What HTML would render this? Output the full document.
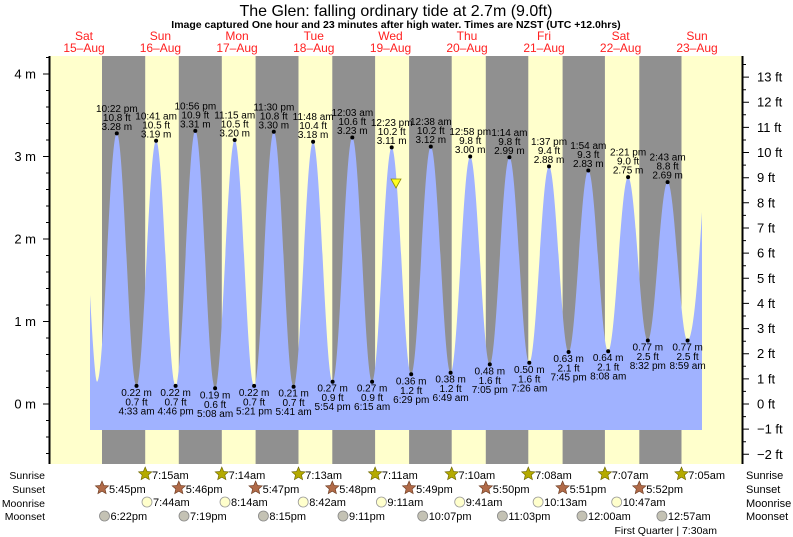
<!DOCTYPE html>
<html><head><meta charset="utf-8"><style>
html,body{margin:0;padding:0;background:#fff;}
svg{display:block;font-family:"Liberation Sans",sans-serif;}
</style></head><body>
<svg width="793" height="537" viewBox="0 0 793 537" xmlns="http://www.w3.org/2000/svg">
<defs>
<polygon id="star" points="0,-7 1.88,-2.59 6.66,-2.16 3.04,0.99 4.11,5.66 0,3.2 -4.11,5.66 -3.04,0.99 -6.66,-2.16 -1.88,-2.59"/>
</defs>
<text x="396" y="16" font-size="16" text-anchor="middle" fill="#000">The Glen: falling  ordinary tide at 2.7m (9.0ft)</text>
<text x="396" y="28" font-size="10.5" font-weight="bold" text-anchor="middle" fill="#000">Image captured One hour and 23 minutes after high water. Times are NZST (UTC +12.0hrs)</text>
<g font-size="12" fill="#ff2020" text-anchor="middle">
<text x="84" y="40">Sat</text><text x="84" y="52">15–Aug</text>
<text x="160.4" y="40">Sun</text><text x="160.4" y="52">16–Aug</text>
<text x="237" y="40">Mon</text><text x="237" y="52">17–Aug</text>
<text x="313.8" y="40">Tue</text><text x="313.8" y="52">18–Aug</text>
<text x="390.5" y="40">Wed</text><text x="390.5" y="52">19–Aug</text>
<text x="467" y="40">Thu</text><text x="467" y="52">20–Aug</text>
<text x="544" y="40">Fri</text><text x="544" y="52">21–Aug</text>
<text x="620.6" y="40">Sat</text><text x="620.6" y="52">22–Aug</text>
<text x="697" y="40">Sun</text><text x="697" y="52">23–Aug</text>
</g>
<rect x="50" y="56" width="692" height="408" fill="#ffffcc"/>
<g fill="#909090">
<rect x="102" y="56" width="43.2" height="408"/>
<rect x="178.8" y="56" width="43" height="408"/>
<rect x="255.6" y="56" width="42.9" height="408"/>
<rect x="332.3" y="56" width="42.8" height="408"/>
<rect x="409.1" y="56" width="42.6" height="408"/>
<rect x="485.8" y="56" width="42.5" height="408"/>
<rect x="562.6" y="56" width="42.3" height="408"/>
<rect x="639.3" y="56" width="42.2" height="408"/>
</g>
<path fill="#a0b2ff" d="M90,430 L90,295 C92,330 95,381.7 97.1,381.7
C104.3,381.7 109.6,133.4 116.8,133.4
C124,133.4 129.3,385.9 136.5,385.9
C143.6,385.9 149,140.8 156.1,140.8
C163.2,140.8 168.5,385.9 175.6,385.9
C182.8,385.9 188.1,130.9 195.3,130.9
C202.5,130.9 207.9,388.3 215.1,388.3
C222.2,388.3 227.6,140 234.7,140
C241.8,140 247,385.9 254.1,385.9
C261.3,385.9 266.6,131.8 273.8,131.8
C281,131.8 286.4,386.7 293.6,386.7
C300.7,386.7 306,141.7 313.1,141.7
C320.2,141.7 325.5,381.7 332.6,381.7
C339.8,381.7 345.1,137.5 352.3,137.5
C359.5,137.5 364.9,381.7 372.1,381.7
C379.2,381.7 384.6,147.4 391.7,147.4
C398.8,147.4 404.1,374.3 411.2,374.3
C418.3,374.3 423.7,146.6 430.8,146.6
C438,146.6 443.4,372.7 450.6,372.7
C457.7,372.7 463.1,156.5 470.2,156.5
C477.3,156.5 482.7,364.4 489.8,364.4
C496.9,364.4 502.3,157.3 509.4,157.3
C516.6,157.3 522.1,362.8 529.3,362.8
C536.5,362.8 541.8,166.4 549,166.4
C556.1,166.4 561.5,352 568.6,352
C575.8,352 581.1,170.5 588.3,170.5
C595.5,170.5 601,351.2 608.2,351.2
C615.4,351.2 620.9,177.1 628.1,177.1
C635.3,177.1 640.6,340.5 647.8,340.5
C655,340.5 660.4,182.1 667.6,182.1
C674.9,182.1 680.3,340.5 687.6,340.5
C694,340.5 699,262 702,212 L702,430 Z"/>
<polygon points="391,179 401,179 396,188" fill="#ffff20" stroke="#909000" stroke-width="0.8"/>
<g font-size="10" text-anchor="middle" fill="#000">
<g transform="translate(116.8,133.4)"><circle r="2"/><text y="-21.5">10:22 pm</text><text y="-12.5">10.8 ft</text><text y="-3.5">3.28 m</text></g>
<g transform="translate(156.1,140.8)"><circle r="2"/><text y="-21.5">10:41 am</text><text y="-12.5">10.5 ft</text><text y="-3.5">3.19 m</text></g>
<g transform="translate(195.3,130.9)"><circle r="2"/><text y="-21.5">10:56 pm</text><text y="-12.5">10.9 ft</text><text y="-3.5">3.31 m</text></g>
<g transform="translate(234.7,140)"><circle r="2"/><text y="-21.5">11:15 am</text><text y="-12.5">10.5 ft</text><text y="-3.5">3.20 m</text></g>
<g transform="translate(273.8,131.8)"><circle r="2"/><text y="-21.5">11:30 pm</text><text y="-12.5">10.8 ft</text><text y="-3.5">3.30 m</text></g>
<g transform="translate(313.1,141.7)"><circle r="2"/><text y="-21.5">11:48 am</text><text y="-12.5">10.4 ft</text><text y="-3.5">3.18 m</text></g>
<g transform="translate(352.3,137.5)"><circle r="2"/><text y="-21.5">12:03 am</text><text y="-12.5">10.6 ft</text><text y="-3.5">3.23 m</text></g>
<g transform="translate(391.7,147.4)"><circle r="2"/><text y="-21.5">12:23 pm</text><text y="-12.5">10.2 ft</text><text y="-3.5">3.11 m</text></g>
<g transform="translate(430.8,146.6)"><circle r="2"/><text y="-21.5">12:38 am</text><text y="-12.5">10.2 ft</text><text y="-3.5">3.12 m</text></g>
<g transform="translate(470.2,156.5)"><circle r="2"/><text y="-21.5">12:58 pm</text><text y="-12.5">9.8 ft</text><text y="-3.5">3.00 m</text></g>
<g transform="translate(509.4,157.3)"><circle r="2"/><text y="-21.5">1:14 am</text><text y="-12.5">9.8 ft</text><text y="-3.5">2.99 m</text></g>
<g transform="translate(549,166.4)"><circle r="2"/><text y="-21.5">1:37 pm</text><text y="-12.5">9.4 ft</text><text y="-3.5">2.88 m</text></g>
<g transform="translate(588.3,170.5)"><circle r="2"/><text y="-21.5">1:54 am</text><text y="-12.5">9.3 ft</text><text y="-3.5">2.83 m</text></g>
<g transform="translate(628.1,177.1)"><circle r="2"/><text y="-21.5">2:21 pm</text><text y="-12.5">9.0 ft</text><text y="-3.5">2.75 m</text></g>
<g transform="translate(667.6,182.1)"><circle r="2"/><text y="-21.5">2:43 am</text><text y="-12.5">8.8 ft</text><text y="-3.5">2.69 m</text></g>
<g transform="translate(136.5,385.9)"><circle r="2"/><text y="10">0.22 m</text><text y="19.5">0.7 ft</text><text y="28.5">4:33 am</text></g>
<g transform="translate(175.6,385.9)"><circle r="2"/><text y="10">0.22 m</text><text y="19.5">0.7 ft</text><text y="28.5">4:46 pm</text></g>
<g transform="translate(215.1,388.3)"><circle r="2"/><text y="10">0.19 m</text><text y="19.5">0.6 ft</text><text y="28.5">5:08 am</text></g>
<g transform="translate(254.1,385.9)"><circle r="2"/><text y="10">0.22 m</text><text y="19.5">0.7 ft</text><text y="28.5">5:21 pm</text></g>
<g transform="translate(293.6,386.7)"><circle r="2"/><text y="10">0.21 m</text><text y="19.5">0.7 ft</text><text y="28.5">5:41 am</text></g>
<g transform="translate(332.6,381.7)"><circle r="2"/><text y="10">0.27 m</text><text y="19.5">0.9 ft</text><text y="28.5">5:54 pm</text></g>
<g transform="translate(372.1,381.7)"><circle r="2"/><text y="10">0.27 m</text><text y="19.5">0.9 ft</text><text y="28.5">6:15 am</text></g>
<g transform="translate(411.2,374.3)"><circle r="2"/><text y="10">0.36 m</text><text y="19.5">1.2 ft</text><text y="28.5">6:29 pm</text></g>
<g transform="translate(450.6,372.7)"><circle r="2"/><text y="10">0.38 m</text><text y="19.5">1.2 ft</text><text y="28.5">6:49 am</text></g>
<g transform="translate(489.8,364.4)"><circle r="2"/><text y="10">0.48 m</text><text y="19.5">1.6 ft</text><text y="28.5">7:05 pm</text></g>
<g transform="translate(529.3,362.8)"><circle r="2"/><text y="10">0.50 m</text><text y="19.5">1.6 ft</text><text y="28.5">7:26 am</text></g>
<g transform="translate(568.6,352)"><circle r="2"/><text y="10">0.63 m</text><text y="19.5">2.1 ft</text><text y="28.5">7:45 pm</text></g>
<g transform="translate(608.2,351.2)"><circle r="2"/><text y="10">0.64 m</text><text y="19.5">2.1 ft</text><text y="28.5">8:08 am</text></g>
<g transform="translate(647.8,340.5)"><circle r="2"/><text y="10">0.77 m</text><text y="19.5">2.5 ft</text><text y="28.5">8:32 pm</text></g>
<g transform="translate(687.6,340.5)"><circle r="2"/><text y="10">0.77 m</text><text y="19.5">2.5 ft</text><text y="28.5">8:59 am</text></g>
</g>
<line x1="49.5" y1="56" x2="49.5" y2="464" stroke="#000" stroke-width="2"/>
<g stroke="#000" stroke-width="1">
<line x1="43" y1="74" x2="49" y2="74"/><line x1="43" y1="156.5" x2="49" y2="156.5"/><line x1="43" y1="239" x2="49" y2="239"/><line x1="43" y1="321.5" x2="49" y2="321.5"/><line x1="43" y1="404" x2="49" y2="404"/>
<path d="M46,57.5H49M46,90.5H49M46,107H49M46,123.5H49M46,140H49M46,173H49M46,189.5H49M46,206H49M46,222.5H49M46,255.5H49M46,272H49M46,288.5H49M46,305H49M46,338H49M46,354.5H49M46,371H49M46,387.5H49M46,420.5H49M46,437H49M46,453.5H49"/>
</g>
<g font-size="13" text-anchor="end" fill="#000">
<text x="36" y="78.5">4 m</text><text x="36" y="161">3 m</text><text x="36" y="243.5">2 m</text><text x="36" y="326">1 m</text><text x="36" y="408.5">0 m</text>
</g>
<line x1="742.5" y1="56" x2="742.5" y2="464" stroke="#000" stroke-width="2"/>
<g stroke="#000" stroke-width="1">
<path d="M743,77.1H749M743,102.2H749M743,127.4H749M743,152.5H749M743,177.7H749M743,202.8H749M743,228H749M743,253.1H749M743,278.3H749M743,303.4H749M743,328.6H749M743,353.7H749M743,378.9H749M743,404H749M743,429.1H749M743,454.3H749"/>
<path d="M743,64.5H746M743,89.7H746M743,114.8H746M743,140H746M743,165.1H746M743,190.3H746M743,215.4H746M743,240.6H746M743,265.7H746M743,290.9H746M743,316H746M743,341.2H746M743,366.3H746M743,391.4H746M743,416.6H746M743,441.7H746"/>
</g>
<g font-size="13" fill="#000">
<text x="757" y="81.6">13 ft</text><text x="757" y="106.7">12 ft</text><text x="757" y="131.9">11 ft</text><text x="757" y="157">10 ft</text><text x="757" y="182.2">9 ft</text><text x="757" y="207.3">8 ft</text><text x="757" y="232.5">7 ft</text><text x="757" y="257.6">6 ft</text><text x="757" y="282.8">5 ft</text><text x="757" y="307.9">4 ft</text><text x="757" y="333.1">3 ft</text><text x="757" y="358.2">2 ft</text><text x="757" y="383.4">1 ft</text><text x="757" y="408.5">0 ft</text><text x="757" y="433.6">−1 ft</text><text x="757" y="458.8">−2 ft</text>
</g>
<g font-size="10.5" fill="#000">
<text x="45" y="479" text-anchor="end">Sunrise</text><text x="45" y="493" text-anchor="end">Sunset</text><text x="45" y="507" text-anchor="end">Moonrise</text><text x="45" y="520" text-anchor="end">Moonset</text>
</g>
<g font-size="11" fill="#000">
<text x="746" y="479">Sunrise</text><text x="746" y="493">Sunset</text><text x="746" y="507">Moonrise</text><text x="746" y="520">Moonset</text>
</g>
<g fill="#b4aa00" stroke="#6a6400" stroke-width="0.6">
<use href="#star" x="145.2" y="474"/><use href="#star" x="221.8" y="474"/><use href="#star" x="298.5" y="474"/><use href="#star" x="375.1" y="474"/><use href="#star" x="451.7" y="474"/><use href="#star" x="528.3" y="474"/><use href="#star" x="604.9" y="474"/><use href="#star" x="681.5" y="474"/>
</g>
<g fill="#b06a48" stroke="#6a3a20" stroke-width="0.6">
<use href="#star" x="102" y="488"/><use href="#star" x="178.8" y="488"/><use href="#star" x="255.6" y="488"/><use href="#star" x="332.3" y="488"/><use href="#star" x="409.1" y="488"/><use href="#star" x="485.8" y="488"/><use href="#star" x="562.6" y="488"/><use href="#star" x="639.3" y="488"/>
</g>
<g fill="#ffffcc" stroke="#999" stroke-width="0.8">
<circle cx="147" cy="502" r="5"/><circle cx="225" cy="502" r="5"/><circle cx="303.2" cy="502" r="5"/><circle cx="381.4" cy="502" r="5"/><circle cx="459.7" cy="502" r="5"/><circle cx="538.1" cy="502" r="5"/><circle cx="616.7" cy="502" r="5"/>
</g>
<g fill="#c4c2b4" stroke="#888" stroke-width="0.8">
<circle cx="104.5" cy="516" r="5"/><circle cx="184" cy="516" r="5"/><circle cx="263.4" cy="516" r="5"/><circle cx="343" cy="516" r="5"/><circle cx="422.7" cy="516" r="5"/><circle cx="502.4" cy="516" r="5"/><circle cx="582" cy="516" r="5"/><circle cx="661.9" cy="516" r="5"/>
</g>
<g font-size="11" fill="#000">
<text x="152" y="479">7:15am</text><text x="228.6" y="479">7:14am</text><text x="305.3" y="479">7:13am</text><text x="381.9" y="479">7:11am</text><text x="458.5" y="479">7:10am</text><text x="535.1" y="479">7:08am</text><text x="611.7" y="479">7:07am</text><text x="688.3" y="479">7:05am</text>
<text x="109" y="493">5:45pm</text><text x="185.8" y="493">5:46pm</text><text x="262.6" y="493">5:47pm</text><text x="339.3" y="493">5:48pm</text><text x="416.1" y="493">5:49pm</text><text x="492.8" y="493">5:50pm</text><text x="569.6" y="493">5:51pm</text><text x="646.3" y="493">5:52pm</text>
<text x="153" y="506">7:44am</text><text x="231" y="506">8:14am</text><text x="309.2" y="506">8:42am</text><text x="387.4" y="506">9:11am</text><text x="465.7" y="506">9:41am</text><text x="544.1" y="506">10:13am</text><text x="622.7" y="506">10:47am</text>
<text x="110.5" y="520">6:22pm</text><text x="190" y="520">7:19pm</text><text x="269.4" y="520">8:15pm</text><text x="349" y="520">9:11pm</text><text x="428.7" y="520">10:07pm</text><text x="508.4" y="520">11:03pm</text><text x="588" y="520">12:00am</text><text x="667.9" y="520">12:57am</text>
<text x="717" y="534" text-anchor="end" font-size="10.5">First Quarter | 7:30am</text>
</g>
</svg>
</body></html>
